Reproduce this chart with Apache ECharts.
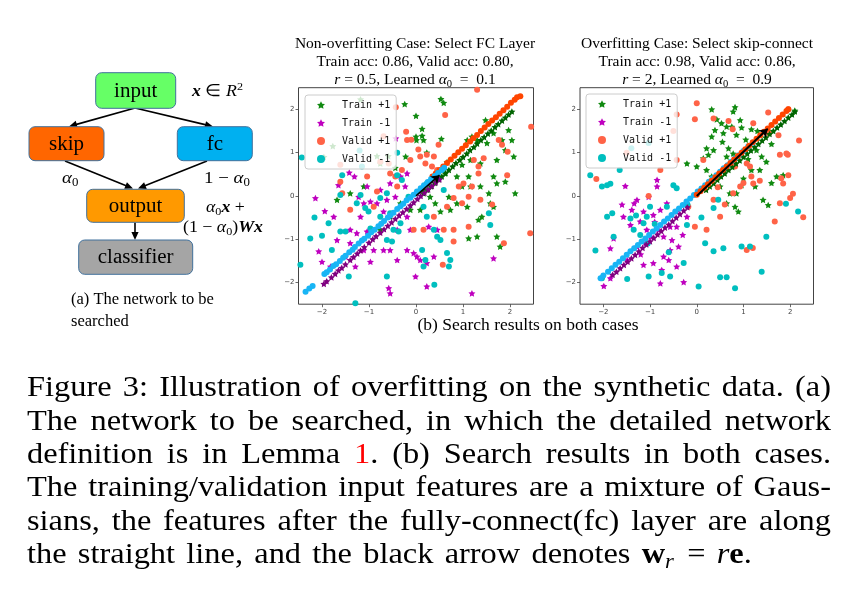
<!DOCTYPE html>
<html><head><meta charset="utf-8">
<script src="https://cdn.jsdelivr.net/npm/echarts@6/dist/echarts.min.js"></script>
<style>html,body{margin:0;padding:0;background:#fff}#c{width:847px;height:597px}</style>
</head><body><div id="c"></div>
<script>
// ---------- data ----------
const TICKS = [-2, -1, 0, 1, 2];
const TICK_LABELS = ['−2', '−1', '0', '1', '2'];
const LEGEND_NAMES = ['Train +1', 'Train -1', 'Valid +1', 'Valid -1'];

const L_train_pos = [[-1.18,2.23],[-0.24,2.12],[0.53,2.24],[0.59,2.15],[0.0,1.85],[0.13,1.55],[0.0,1.37],[0.01,1.29],[0.13,1.39],[0.16,1.29],[0.54,1.32],[0.23,1.0],[-0.22,0.91],[-0.83,0.92],[-0.76,0.75],[-1.77,1.15],[-1.96,0.9],[-0.59,0.92],[-0.44,0.65],[0.66,0.78],[1.09,1.29],[1.19,1.37],[1.30,1.29],[1.48,1.75],[1.51,1.22],[1.65,1.45],[1.83,1.29],[1.97,1.52],[2.04,1.29],[1.90,1.06],[2.08,0.91],[1.72,0.83],[1.37,0.75],[1.16,0.83],[0.98,0.72],[0.87,0.45],[1.12,0.45],[0.98,0.22],[1.16,0.22],[1.37,0.22],[1.65,0.45],[1.72,0.29],[1.90,0.33],[2.11,0.06],[1.55,0.06],[1.58,-0.17],[1.40,-0.48],[1.33,-0.55],[1.65,-0.25],[1.09,-0.25],[0.87,-0.17],[0.73,-0.32],[0.52,-0.36],[0.41,-0.17],[0.30,-0.02],[0.16,0.14],[0.09,-0.32],[-0.12,-0.32],[-0.33,-0.17],[-0.55,-0.48],[-0.76,-0.78],[1.79,-1.17],[-1.68,-0.09],[-1.40,0.06],[-1.11,0.22],[1.30,-0.94],[1.72,-0.94],[1.12,-0.98],[0.62,0.52],[0.70,-0.02]];
const L_train_neg = [[-2.14,-0.05],[-1.94,-0.35],[-1.75,-0.48],[-1.65,0.25],[-1.42,0.54],[-1.31,0.45],[-1.11,-0.17],[-0.97,-0.13],[-0.83,-0.17],[-0.69,-0.36],[-0.44,-0.02],[-0.23,0.22],[-0.33,0.45],[-0.19,0.52],[-0.55,0.29],[-1.04,0.22],[-1.22,-0.02],[-1.26,-0.86],[-1.40,-0.78],[-1.04,-0.82],[-1.11,-1.25],[-0.90,-1.25],[-2.07,-1.28],[-2.0,-1.52],[-1.82,-1.63],[-1.50,-1.40],[-1.29,-1.63],[-0.55,-1.25],[-0.40,-1.48],[-0.19,-1.25],[-0.05,-1.32],[0.02,-1.40],[0.09,-1.48],[0.23,-1.55],[0.38,-1.40],[0.23,-2.09],[-0.01,-1.86],[-0.58,-2.13],[-0.55,-2.25],[1.19,-2.25],[1.65,-1.44],[-0.97,-1.52],[-0.43,1.33],[-0.62,-0.09],[-0.76,0.14],[-0.19,-0.48],[-0.12,-0.78],[-0.40,-0.78],[-1.18,-0.48],[-1.40,-1.09],[-1.68,-1.02],[0.27,-0.71],[0.45,-0.78],[-0.69,-1.25]];
const L_valid_pos = [[1.30,2.45],[-0.43,2.05],[0.62,1.87],[-0.21,1.48],[-0.19,1.29],[0.48,1.18],[-0.69,1.38],[-0.58,0.75],[-0.44,0.45],[-0.30,0.60],[-0.12,0.83],[0.09,0.91],[0.23,0.95],[0.38,0.91],[0.20,0.75],[0.34,0.68],[0.45,0.60],[1.23,0.83],[1.33,0.68],[1.44,0.87],[1.76,1.29],[1.83,1.18],[2.45,1.6],[1.94,0.48],[1.19,0.22],[1.01,0.29],[1.33,0.52],[1.37,-0.09],[1.12,-0.02],[0.91,0.22],[0.80,-0.05],[1.12,-0.71],[0.80,-0.78],[0.38,-0.48],[0.59,-0.78],[0.16,-0.78],[-0.05,-0.78],[0.57,-1.59],[0.80,-1.05],[1.87,-1.09],[2.43,-0.86],[-1.61,0.72],[-1.61,0.33],[-1.57,0.06],[-1.04,0.45],[-0.83,0.10],[-0.55,0.52],[-0.40,0.22],[-0.90,-0.25],[-1.40,-0.32],[-0.76,0.79],[0.66,-0.25],[0.98,-0.17],[1.95,1.02],[0.05,1.07],[-0.10,1.3],[1.62,-0.2]];
const L_valid_neg = [[-2.43,0.89],[-1.15,0.68],[-1.57,0.48],[-1.61,0.02],[-2.16,-0.5],[-1.86,-0.63],[-2.0,-0.92],[-2.25,-0.98],[-1.61,-0.82],[-1.50,-0.82],[-1.79,-1.25],[-1.43,-1.86],[-2.46,-1.59],[-1.29,-2.48],[-1.26,-0.17],[-1.08,-0.28],[-1.01,-0.36],[-1.18,0.02],[-0.76,-0.05],[-0.62,0.06],[-0.55,-0.40],[-0.48,-0.78],[-0.37,-0.82],[-0.33,-0.63],[-0.76,-0.48],[-0.62,-1.02],[-0.51,-1.05],[-0.40,0.48],[-0.30,0.37],[-0.16,-0.02],[0.16,-0.25],[0.23,-0.48],[0.38,-0.78],[0.45,-0.94],[0.52,-1.02],[0.13,-1.25],[0.20,-1.48],[0.16,-1.63],[0.39,-2.05],[-0.62,-1.86],[0.66,-1.32],[0.73,-1.48],[0.70,-1.63],[1.55,-0.40],[1.58,-0.67],[0.23,0.29],[-0.97,-0.75],[0.59,0.14],[-0.4,1.0],[-1.2,1.05]];
const L_fc_train_pos = [[0.16,0.06],[0.24,0.14],[0.32,0.22],[0.4,0.3],[0.48,0.38],[0.55,0.45],[0.63,0.53],[0.7,0.6],[0.78,0.68],[0.85,0.76],[0.93,0.83],[1.0,0.9],[1.08,0.98],[1.15,1.06],[1.23,1.13],[1.3,1.21],[1.38,1.29],[1.45,1.36],[1.53,1.44],[1.6,1.51],[1.68,1.59],[1.75,1.66],[1.83,1.74],[1.9,1.81],[1.97,1.88],[2.04,1.95]];
const L_fc_train_neg = [[-1.96,-2.03],[-1.9,-1.97],[-1.8,-1.88],[-1.72,-1.8],[-1.65,-1.72],[-1.58,-1.66],[-1.5,-1.58],[-1.4,-1.48],[-1.33,-1.41],[-1.25,-1.33],[-1.18,-1.26],[-1.1,-1.18],[-1.0,-1.08],[-0.92,-1.0],[-0.85,-0.93],[-0.76,-0.85],[-0.68,-0.77],[-0.6,-0.69],[-0.52,-0.61],[-0.44,-0.53],[-0.36,-0.45],[-0.28,-0.38],[-0.2,-0.3],[-0.12,-0.22],[-0.05,-0.15],[0.03,-0.07],[0.1,0.0],[0.18,0.07],[0.26,0.15],[0.34,0.23],[0.42,0.31],[0.5,0.38]];
const L_fc_valid_pos = [[0.35,0.45],[0.42,0.52],[0.5,0.6],[0.58,0.68],[0.66,0.76],[0.74,0.84],[0.82,0.93],[0.9,1.01],[0.98,1.09],[1.06,1.17],[1.15,1.26],[1.22,1.33],[1.3,1.41],[1.38,1.5],[1.46,1.58],[1.54,1.66],[1.62,1.74],[1.7,1.82],[1.78,1.9],[1.86,1.98],[1.94,2.06],[2.02,2.15],[2.1,2.22],[2.15,2.28],[2.22,2.3]];
const L_fc_valid_neg = [[-2.35,-2.21],[-2.27,-2.14],[-2.2,-2.08],[-1.95,-1.8],[-1.9,-1.76],[-1.83,-1.7],[-1.76,-1.62],[-1.7,-1.58],[-1.62,-1.5],[-1.55,-1.43],[-1.5,-1.38],[-1.42,-1.3],[-1.35,-1.24],[-1.3,-1.18],[-1.22,-1.1],[-1.15,-1.03],[-1.1,-0.99],[-1.02,-0.92],[-0.95,-0.84],[-0.88,-0.78],[-0.8,-0.7],[-0.74,-0.64],[-0.68,-0.58],[-0.6,-0.5],[-0.55,-0.45],[-0.48,-0.39],[-0.4,-0.3],[-0.33,-0.24],[-0.27,-0.18],[-0.2,-0.1],[-0.12,-0.04],[-0.05,0.03],[0.02,0.1],[0.1,0.18],[0.17,0.25],[0.25,0.32],[0.32,0.39],[0.4,0.46],[0.47,0.53],[0.55,0.6],[0.6,0.65]];
const L_arrow = [[0, 0], [0.5, 0.48]];

const R_train_pos = [[0.32,2.0],[0.82,2.05],[0.78,1.95],[0.43,1.77],[0.53,1.68],[0.64,1.6],[0.75,1.6],[0.96,1.58],[1.17,1.54],[0.39,1.52],[0.57,1.45],[0.85,1.41],[0.32,1.37],[0.21,1.1],[0.36,1.06],[0.68,1.1],[0.78,0.98],[0.64,0.91],[0.14,0.87],[0.0,0.68],[0.21,0.6],[0.32,0.45],[0.43,0.45],[-0.21,0.75],[1.28,1.06],[1.39,0.91],[1.49,0.79],[1.17,0.6],[1.35,0.6],[1.71,0.45],[1.85,0.48],[1.53,-0.21],[0.96,0.25],[0.85,0.06],[0.71,0.06],[0.82,-0.25],[0.89,-0.36],[0.64,-0.17],[0.50,0.22],[1.42,-0.09],[1.25,0.22],[2.10,1.97],[0.93,1.75],[1.05,1.3],[1.6,1.2],[1.1,0.85],[0.55,1.25],[0.25,0.95],[1.0,0.4],[1.6,0.3],[0.6,0.6],[1.3,1.5]];
const R_train_neg = [[-0.85,0.37],[-0.85,0.22],[-1.53,0.23],[-1.34,-0.17],[-1.14,-0.36],[-1.21,-0.59],[-1.42,-0.67],[-1.78,-0.98],[-1.85,-1.21],[-1.99,-2.08],[-1.85,-1.90],[-1.49,-1.48],[-1.14,-1.59],[-0.93,-1.55],[-0.78,-2.02],[-0.28,-1.99],[-0.75,-1.71],[-0.71,-1.4],[-0.60,-1.48],[-0.57,-1.25],[-0.39,-1.17],[-0.53,-1.02],[-0.71,-0.94],[-0.82,-0.78],[-0.99,-0.94],[-1.10,-1.09],[-1.28,-1.17],[-0.93,-0.44],[-0.78,-0.32],[-0.64,-0.17],[-0.43,-0.36],[-0.21,-0.48],[-0.43,-0.71],[-1.03,-0.02],[-1.28,-0.09],[-1.57,-0.48],[-1.39,-0.32],[-0.43,-1.63],[-0.57,-0.71],[-1.07,-0.78],[-0.9,-0.6],[-1.2,-1.35],[-0.3,-0.9],[-1.6,-0.2]];
const R_valid_pos = [[0.0,2.14],[-0.43,1.88],[-0.04,1.77],[0.36,1.79],[0.68,1.73],[0.77,1.54],[1.53,1.93],[1.96,2.0],[1.21,1.68],[2.19,1.28],[1.78,0.95],[1.92,0.98],[1.81,0.41],[1.85,0.29],[1.96,0.48],[2.06,0.05],[1.78,-0.17],[2.28,-0.49],[1.67,-0.59],[1.07,-1.25],[0.93,0.22],[1.07,0.75],[1.14,0.68],[1.17,0.45],[1.21,0.29],[0.82,0.68],[0.36,-0.09],[0.78,0.06],[0.50,-0.48],[0.21,-0.78],[-0.04,-0.71],[-1.03,0.0],[-2.15,0.39],[-0.78,0.6],[-0.43,0.83],[0.14,0.83],[-0.18,-0.25],[1.55,1.45],[1.0,0.3],[0.45,0.2],[1.35,0.35],[1.75,1.4],[0.6,-0.2],[-1.5,1.0],[-0.5,1.5],[1.95,0.95],[2.0,-0.05],[1.2,-1.2]];
const R_valid_neg = [[-2.28,0.48],[-2.03,0.22],[-1.92,0.25],[-1.85,0.28],[-1.65,0.6],[-1.92,-0.48],[-1.81,-0.40],[-1.78,-0.94],[-2.17,-1.26],[-2.03,-1.9],[-1.49,-1.92],[-1.03,-1.86],[-0.75,-1.78],[-0.57,-1.86],[-0.28,-1.55],[0.04,-2.09],[0.82,-2.13],[0.50,-1.88],[0.64,-1.88],[1.39,-1.75],[1.49,-0.94],[1.14,-1.17],[0.96,-1.17],[0.57,-1.21],[0.36,-1.28],[0.18,-1.09],[-0.21,-0.67],[0.36,-0.28],[0.46,-0.09],[-0.43,0.18],[-0.50,0.25],[-0.64,-0.25],[-1.0,-0.25],[-1.07,-0.48],[-1.14,-0.63],[-1.35,-0.78],[-1.21,-0.9],[-1.42,-0.52],[2.17,-0.36],[1.91,-0.18],[-1.03,1.22],[-1.3,-0.45],[-0.9,-0.65],[-1.05,-1.1],[-0.6,-1.3],[-0.2,-0.2],[0.1,-0.5],[-1.4,1.1]];
const R_fc_train_pos = [[0.2,0.14],[0.28,0.22],[0.36,0.29],[0.44,0.37],[0.52,0.45],[0.6,0.52],[0.68,0.6],[0.76,0.67],[0.84,0.75],[0.92,0.82],[1.0,0.9],[1.08,0.98],[1.16,1.05],[1.24,1.13],[1.32,1.2],[1.4,1.28],[1.48,1.35],[1.56,1.43],[1.64,1.5],[1.72,1.58],[1.8,1.65],[1.88,1.73],[1.96,1.81],[2.04,1.88],[2.1,1.95]];
const R_fc_train_neg = [[-1.8,-1.82],[-1.72,-1.75],[-1.64,-1.67],[-1.56,-1.59],[-1.48,-1.52],[-1.4,-1.44],[-1.32,-1.36],[-1.24,-1.28],[-1.16,-1.2],[-1.08,-1.12],[-1.0,-1.05],[-0.92,-0.97],[-0.84,-0.89],[-0.76,-0.81],[-0.68,-0.73],[-0.6,-0.66],[-0.52,-0.58],[-0.44,-0.5],[-0.36,-0.42],[-0.28,-0.34],[-0.2,-0.26]];
const R_fc_valid_pos = [[0.0,0.03],[0.08,0.11],[0.16,0.19],[0.24,0.27],[0.32,0.35],[0.4,0.43],[0.48,0.52],[0.56,0.6],[0.64,0.68],[0.72,0.76],[0.8,0.84],[0.88,0.92],[0.96,1.0],[1.04,1.08],[1.12,1.16],[1.2,1.24],[1.28,1.32],[1.36,1.4],[1.44,1.48],[1.52,1.56],[1.6,1.64],[1.68,1.72],[1.76,1.8],[1.84,1.88],[1.92,1.96],[1.96,2.0]];
const R_fc_valid_neg = [[-2.06,-1.9],[-2.0,-1.84],[-1.9,-1.75],[-1.82,-1.67],[-1.74,-1.59],[-1.66,-1.52],[-1.58,-1.44],[-1.5,-1.36],[-1.42,-1.28],[-1.34,-1.21],[-1.26,-1.13],[-1.18,-1.05],[-1.1,-0.98],[-1.02,-0.9],[-0.94,-0.82],[-0.86,-0.75],[-0.78,-0.67],[-0.7,-0.59],[-0.62,-0.52],[-0.54,-0.44],[-0.46,-0.36],[-0.38,-0.29],[-0.3,-0.21],[-0.22,-0.13],[-0.14,-0.06],[-0.06,0.02],[0.02,0.1],[0.1,0.17],[0.18,0.25],[0.26,0.33],[0.34,0.41],[0.42,0.48],[0.5,0.56],[0.58,0.64],[0.66,0.71],[0.74,0.79],[0.82,0.87],[0.9,0.94],[1.0,1.04],[1.1,1.14],[1.2,1.23]];
const R_arrow = [[0, 0], [1.52, 1.55]];

const TITLE_L = ['Non-overfitting Case: Select FC Layer', 'Train acc: 0.86, Valid acc: 0.80,', '{i|r} = 0.5, Learned {i|α}{s|0}  =  0.1'];
const TITLE_R = ['Overfitting Case: Select skip-connect', 'Train acc: 0.98, Valid acc: 0.86,', '{i|r} = 2, Learned {i|α}{s|0}  =  0.9'];
const SUB_A = ['(a) The network to be', 'searched'];
const SUB_B = '(b) Search results on both cases';
const CAPTION = [
  'Figure 3: Illustration of overfitting on the synthetic data. (a)',
  'The network to be searched, in which the detailed network',
  'definition is in Lemma {red|1}. (b) Search results in both cases.',
  'The training/validation input features are a mixture of Gaus-',
  'sians, the features after the fully-connect(fc) layer are along',
  'the straight line, and the black arrow denotes {bw|w}{sr|r} = {ir|r}{be|e}.'
];

// ---------- styles ----------
const SERIF = 'Liberation Serif';
const STAR = 'path://M0,-10L2.94,-4.05L9.51,-3.09L4.76,1.55L5.88,8.09L0,5L-5.88,8.09L-4.76,1.55L-9.51,-3.09L-2.94,-4.05Z';
const C = { g: '#118a11', m: '#bf00bf', tomato: '#ff6347', c: '#00bfbf', dg: '#006400', purple: '#800080', orangered: '#ff4500', dsb: '#19b5f5' };

function sc(name, data, gi, symbol, color, size) {
  return { type: 'scatter', name, data, xAxisIndex: gi, yAxisIndex: gi, symbol, symbolSize: size,
    symbolKeepAspect: true, itemStyle: { color, opacity: 1 }, silent: true, animation: false, z: 2 };
}
function arrowSeries(coords, gi, w) {
  return { type: 'lines', coordinateSystem: 'cartesian2d', xAxisIndex: gi, yAxisIndex: gi,
    data: [{ coords }], symbol: ['none', 'arrow'], symbolSize: 8,
    lineStyle: { color: '#000', width: w, opacity: 1 }, silent: true, animation: false, z: 3 };
}
function xAx(gi) {
  return { type: 'value', gridIndex: gi, min: -2.5, max: 2.5, splitLine: { show: false },
    axisLine: { show: false, onZero: false },
    axisTick: { show: true, length: 3, customValues: TICKS, lineStyle: { color: '#444', width: 0.8 } },
    axisLabel: { customValues: TICKS, fontSize: 7, color: '#444', margin: 4, fontFamily: 'DejaVu Sans',
      formatter: v => TICK_LABELS[TICKS.indexOf(Math.round(v))] || '' } };
}
function legend(left, top) {
  return { data: LEGEND_NAMES, orient: 'vertical', left, top, selectedMode: false,
    backgroundColor: 'rgba(255,255,255,0.8)', borderColor: '#cccccc', borderWidth: 1, borderRadius: 3,
    padding: [5, 6, 5, 12], itemWidth: 8, itemHeight: 8, itemGap: 8,
    formatter: n => '  ' + n,
    textStyle: { fontFamily: 'DejaVu Sans Mono', fontSize: 10, color: '#111' } };
}

// ---------- graphic helpers ----------
const G = [];
function txt(text, x, y, opt) {
  const o = Object.assign({ size: 15, align: 'left', va: 'middle', fill: '#000', family: SERIF, rich: null, sx: 1 }, opt || {});
  G.push({ type: 'text', x, y, scaleX: o.sx, silent: true, z: 10,
    style: { text, fill: o.fill, fontSize: o.size, fontFamily: o.family, align: o.align, verticalAlign: o.va,
      textAlign: o.align, textVerticalAlign: o.va, rich: o.rich || undefined } });
}
function box(x, y, w, h, fill, label) {
  G.push({ type: 'rect', shape: { x, y, width: w, height: h, r: 6 }, silent: true, z: 9,
    style: { fill, stroke: '#41719C', lineWidth: 1 } });
  txt(label, x + w / 2, y + h / 2 + 1, { size: 20, align: 'center', sx: 1.05 });
}
function arrow(x1, y1, x2, y2) {
  const dx = x2 - x1, dy = y2 - y1, L = Math.hypot(dx, dy), ux = dx / L, uy = dy / L;
  const hl = 8, hw = 3.6, bx = x2 - ux * hl, by = y2 - uy * hl;
  G.push({ type: 'line', shape: { x1, y1, x2: bx + ux * 2, y2: by + uy * 2 }, silent: true, z: 9,
    style: { stroke: '#000', lineWidth: 1.6 } });
  G.push({ type: 'polygon', shape: { points: [[x2, y2], [bx - uy * hw, by + ux * hw], [bx + uy * hw, by - ux * hw]] },
    silent: true, z: 9, style: { fill: '#000' } });
}
const MATH = size => ({
  i: { fontStyle: 'italic', fontFamily: SERIF, fontSize: size },
  bx: { fontStyle: 'italic', fontWeight: 'bold', fontFamily: SERIF, fontSize: size },
  s: { fontFamily: SERIF, fontSize: size * 0.68, lineHeight: size * 0.68, padding: [Math.round(size * 0.55), 0, 0, 0] },
  sup: { fontFamily: SERIF, fontSize: size * 0.68, lineHeight: size * 0.68, padding: [0, 0, Math.round(size * 0.55), 0] }
});

// ---------- diagram (a) ----------
arrow(135, 108, 69, 126.5);
arrow(135, 108, 213, 126.5);
arrow(65, 161, 133, 188.5);
arrow(207, 161, 138, 188.5);
arrow(135, 222.5, 135, 240);
box(95.7, 72.7, 80, 35.6, '#66FF66', 'input');
box(29, 126.7, 75, 34, '#FF6600', 'skip');
box(177.3, 126.7, 75, 34, '#00B0F0', 'fc');
box(86.7, 189.3, 97.6, 33, '#FF9900', 'output');
box(78.7, 240, 114, 34.3, '#A5A5A5', 'classifier');
txt('{bx|x} ∈ {i|R}{sup|2}', 192, 92, { size: 16.5, rich: MATH(16.5), sx: 1.08 });
txt('{i|α}{s|0}', 62, 178, { size: 17.5, rich: MATH(17.5), sx: 1.08 });
txt('1 − {i|α}{s|0}', 204, 178, { size: 17.5, rich: MATH(17.5), sx: 1.08 });
txt('{i|α}{s|0}{bx|x} +', 206, 208, { size: 16.5, rich: MATH(16.5), sx: 1.08 });
txt('(1 − {i|α}{s|0}){bx|W}{bx|x}', 183, 228, { size: 16.5, rich: MATH(16.5), sx: 1.08 });
txt(SUB_A[0], 71, 300, { size: 16.5 });
txt(SUB_A[1], 71, 322, { size: 16.5 });

// ---------- plot titles ----------
[[TITLE_L, 415], [TITLE_R, 697]].forEach(([lines, cx]) => {
  lines.forEach((t, k) => txt(t, cx, 44 + k * 18, { size: 15.5, align: 'center', rich: MATH(15.5) }));
});
txt(SUB_B, 528, 325, { size: 17.5, align: 'center' });

// ---------- caption (justified) ----------
const CAP_SIZE = 30, CAP_SX = 1.08, CAP_X0 = 27, CAP_X1 = 831, CAP_LAST_END = 750, CAP_BASE = 398.5, CAP_LEAD = 33.4;
const CAP_RICH = {
  red: { fill: '#ff0000', fontFamily: SERIF, fontSize: CAP_SIZE },
  bw: { fontWeight: 'bold', fontFamily: SERIF, fontSize: CAP_SIZE },
  be: { fontWeight: 'bold', fontFamily: SERIF, fontSize: CAP_SIZE },
  ir: { fontStyle: 'italic', fontFamily: SERIF, fontSize: CAP_SIZE },
  sr: { fontStyle: 'italic', fontFamily: SERIF, fontSize: CAP_SIZE * 0.7, lineHeight: CAP_SIZE * 0.7, padding: [Math.round(CAP_SIZE * 0.5), 0, 0, 0] }
};
(function caption() {
  const ctx = document.createElement('canvas').getContext('2d');
  ctx.font = CAP_SIZE + 'px "' + SERIF + '"';
  const strip = s => s.replace(/\{\w+\|([^}]*)\}/g, '$1');
  CAPTION.forEach((line, i) => {
    const y = CAP_BASE + i * CAP_LEAD - 10.1;
    const end = i === CAPTION.length - 1 ? CAP_LAST_END : CAP_X1;
    const words = line.split(' ');
    const ws = words.map(w => ctx.measureText(strip(w)).width * CAP_SX);
    const gap = (end - CAP_X0 - ws.reduce((a, b) => a + b, 0)) / (words.length - 1);
    let x = CAP_X0;
    words.forEach((w, j) => { txt(w, x, y, { size: CAP_SIZE, sx: CAP_SX, rich: CAP_RICH }); x += ws[j] + gap; });
  });
})();

// ---------- chart ----------
const chart = echarts.init(document.getElementById('c'), null, { renderer: 'canvas' });
chart.setOption({
  animation: false,
  backgroundColor: '#fff',
  grid: [
    { left: 298.5, top: 87.7, width: 235, height: 216.5, show: true, borderColor: '#444', borderWidth: 1, backgroundColor: 'transparent' },
    { left: 580, top: 87.7, width: 233.5, height: 216.5, show: true, borderColor: '#444', borderWidth: 1, backgroundColor: 'transparent' }
  ],
  xAxis: [xAx(0), xAx(1)],
  yAxis: [xAx(0), xAx(1)],
  legend: [legend(305, 95), legend(586, 94)],
  series: [
    sc('Train +1', L_train_pos, 0, STAR, C.g, 7),
    sc('Train -1', L_train_neg, 0, STAR, C.m, 7),
    sc('Valid +1', L_valid_pos, 0, 'circle', C.tomato, 6),
    sc('Valid -1', L_valid_neg, 0, 'circle', C.c, 6),
    sc('fc Train +1 L', L_fc_train_pos, 0, STAR, C.dg, 7),
    sc('fc Train -1 L', L_fc_train_neg, 0, STAR, C.purple, 7),
    sc('fc Valid +1 L', L_fc_valid_pos, 0, 'circle', C.orangered, 6),
    sc('fc Valid -1 L', L_fc_valid_neg, 0, 'circle', C.dsb, 6),
    arrowSeries(L_arrow, 0, 1.6),
    sc('Train +1', R_train_pos, 1, STAR, C.g, 7),
    sc('Train -1', R_train_neg, 1, STAR, C.m, 7),
    sc('Valid +1', R_valid_pos, 1, 'circle', C.tomato, 6),
    sc('Valid -1', R_valid_neg, 1, 'circle', C.c, 6),
    sc('fc Train +1 R', R_fc_train_pos, 1, STAR, C.dg, 7),
    sc('fc Train -1 R', R_fc_train_neg, 1, STAR, C.purple, 7),
    sc('fc Valid -1 R', R_fc_valid_neg, 1, 'circle', C.dsb, 6),
    sc('fc Valid +1 R', R_fc_valid_pos, 1, 'circle', C.orangered, 6),
    arrowSeries(R_arrow, 1, 2)
  ],
  graphic: { elements: G }
});
</script></body></html>
